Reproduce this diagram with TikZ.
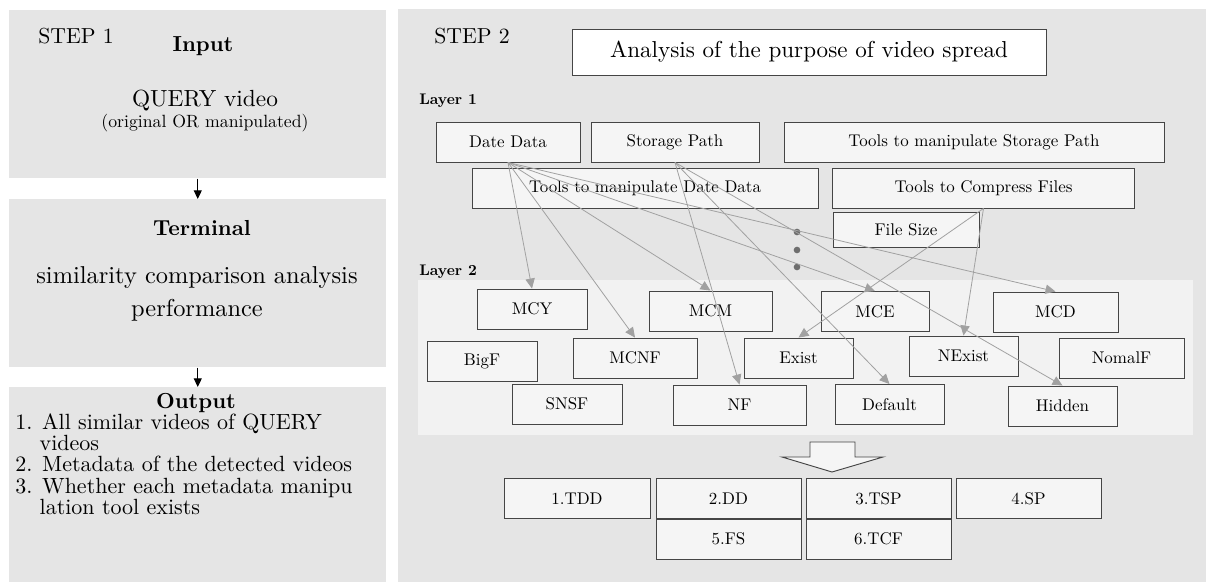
\documentclass[tikz,border=0pt]{standalone}
\usepackage{fontspec}
\setmainfont{lmroman10-regular}[Extension=.otf, BoldFont=lmroman10-bold]
\usetikzlibrary{arrows.meta}
\definecolor{panelgray}{rgb}{0.9,0.9,0.9}
\definecolor{layergray}{rgb}{0.95,0.95,0.95}
\definecolor{boxfill}{rgb}{0.96,0.96,0.96}
\definecolor{boxline}{rgb}{0.27,0.27,0.27}
\definecolor{linkgray}{rgb}{0.63,0.63,0.63}
\definecolor{dotgray}{rgb}{0.43,0.43,0.43}

\begin{document}
\begin{tikzpicture}
    [x=0.75pt, y=-0.75pt,
    panel/.style={fill=panelgray, anchor=north west, inner sep=0pt},
    item/.style={rectangle, fill=boxfill, draw=boxline, line width=0.7pt, minimum height=30pt, inner sep=0pt, font=\fontsize{12.7}{15}\selectfont},
    link/.style={-{Triangle[length=7.5pt,width=7pt]}, linkgray, line width=0.6pt},
    flow/.style={-{Triangle[length=6.5pt,width=6pt]}, black, line width=0.8pt},
    dot/.style={circle, fill=dotgray, inner sep=0pt, minimum size=5pt},
    layer/.style={anchor=base west, inner sep=0pt, font=\fontsize{11.5}{13}\selectfont\bfseries},
    stepname/.style={anchor=base west, inner sep=0pt, font=\fontsize{16.3}{19}\selectfont},
    head/.style={anchor=base, font=\fontsize{16.3}{19}\selectfont\bfseries}]
    \useasboundingbox (0,0) rectangle (1206,582);
    % left column
    \node[panel, minimum width=282.75pt, minimum height=126pt]    (P1) at (9,10)  {};
    \node[panel, minimum width=282.75pt, minimum height=126pt]    (P2) at (9,199) {};
    \node[panel, minimum width=282.75pt, minimum height=146.25pt] (P3) at (9,387) {};
    \draw[flow] (P1.south) -- (P2.north);
    \draw[flow] (P2.south) -- (P3.north);
    \node[stepname] (S1) at (38,43) {STEP 1};
    \node[head] (In) at (203,51) {Input};
    \node[anchor=base, font=\fontsize{17.5}{20}\selectfont] (Q) at (205,106) {QUERY video};
    \node[anchor=base, font=\fontsize{13.3}{15}\selectfont] (Qs) at (205,127) {(original OR manipulated)};
    \node[head] (Te) at (202,235) {Terminal};
    \node[align=center, font=\fontsize{18.3}{24.75}\selectfont] (Sim) at (197,294)
        {similarity comparison analysis\\performance};
    \node[head, inner sep=0pt] (Out) at (196,408) {Output};
    \node[anchor=north west, inner sep=0pt, align=left,
        font=\fontsize{16.5}{16}\selectfont] (OutL) at (15,413)
        {1. All similar videos of QUERY\\
         \phantom{1.}\ videos\\
         2. Metadata of the detected videos\\
         3. Whether each metadata manipu\\
         \phantom{3.}\ lation tool exists};
    % right column
    \node[panel, minimum width=606pt, minimum height=429.75pt] (P4) at (398,9) {};
    \node[panel, fill=layergray, minimum width=581.25pt, minimum height=116.25pt] (L2) at (418,280) {};
    \node[stepname] (S2) at (434,43) {STEP 2};
    \node[draw=boxline, fill=white, line width=0.7pt, minimum width=355.5pt, minimum height=34.5pt,
        font=\fontsize{17.3}{20}\selectfont] (T) at (809,52) {Analysis of the purpose of video spread};
    \node[layer] (Ly1) at (419,104) {Layer 1};
    \node[layer] (Ly2) at (419,275) {Layer 2};
    % layer 1
    \node[item, minimum width=108pt]   (DD)  at (508,142)   {Date Data};
    \node[item, minimum width=126pt]   (SP)  at (675,142)   {Storage Path};
    \node[item, minimum width=285pt]   (TSP) at (974,142)   {Tools to manipulate Storage Path};
    \node[item, minimum width=259.5pt] (TDD) at (645,188)   {Tools to manipulate Date Data};
    \node[item, minimum width=227pt]   (TCF) at (983.5,188) {Tools to Compress Files};
    \node[item, minimum width=109.5pt, minimum height=26.25pt] (FS) at (906,229.5) {File Size};
    \node[dot] (d1) at (797,232) {};
    \node[dot] (d2) at (797,250) {};
    \node[dot] (d3) at (797,267) {};
    % layer 2
    \node[item, minimum width=82.5pt]  (MCY)    at (532,309)    {MCY};
    \node[item, minimum width=92.25pt] (MCM)    at (710.5,311)  {MCM};
    \node[item, minimum width=81pt]    (MCE)    at (875,311.5)  {MCE};
    \node[item, minimum width=93.75pt] (MCD)    at (1055.5,312) {MCD};
    \node[item, minimum width=82.5pt]  (BigF)   at (482,361.5)  {BigF};
    \node[item, minimum width=93pt]    (MCNF)   at (635,358)    {MCNF};
    \node[item, minimum width=81.75pt] (Exist)  at (798.5,358)  {Exist};
    \node[item, minimum width=81.75pt] (NExist) at (963.5,356)  {NExist};
    \node[item, minimum width=93.75pt] (NomalF) at (1121.5,358) {NomalF};
    \node[item, minimum width=82.5pt]  (SNSF)   at (567,404)    {SNSF};
    \node[item, minimum width=99.75pt] (NF)     at (739.5,405)  {NF};
    \node[item, minimum width=81.75pt] (Def)    at (889.5,404.5) {Default};
    \node[item, minimum width=81.75pt] (Hid)    at (1062.5,406) {Hidden};
    % result
    \draw[fill=boxfill, draw=boxline, line width=0.7pt]
        (810,442) -- (855,442) -- (855,457) -- (883,457) -- (832,472) -- (782,457) -- (810,457) -- cycle;
    \node[item, minimum width=109.5pt] (R1) at (577,498.5)   {1.TDD};
    \node[item, minimum width=108.75pt] (R2) at (728.5,498.5) {2.DD};
    \node[item, minimum width=108.75pt] (R3) at (878.5,498.5) {3.TSP};
    \node[item, minimum width=108.75pt] (R4) at (1028.5,498.5) {4.SP};
    \node[item, minimum width=108.75pt] (R5) at (728.5,539)   {5.FS};
    \node[item, minimum width=108.75pt] (R6) at (878.5,539)   {6.TCF};
    % links
    \draw[link] (DD.south) -- (MCY.north);
    \draw[link] (DD.south) -- (MCNF.north);
    \draw[link] (DD.south) -- (MCM.north);
    \draw[link] (DD.south) -- (MCE.north);
    \draw[link] (DD.south) -- (MCD.north);
    \draw[link] (SP.south) -- (NF.north);
    \draw[link] (SP.south) -- (Def.north);
    \draw[link] (SP.south) -- (Hid.north);
    \draw[link] (TCF.south) -- (Exist.north);
    \draw[link] (TCF.south) -- (NExist.north);
\end{tikzpicture}
\end{document}
